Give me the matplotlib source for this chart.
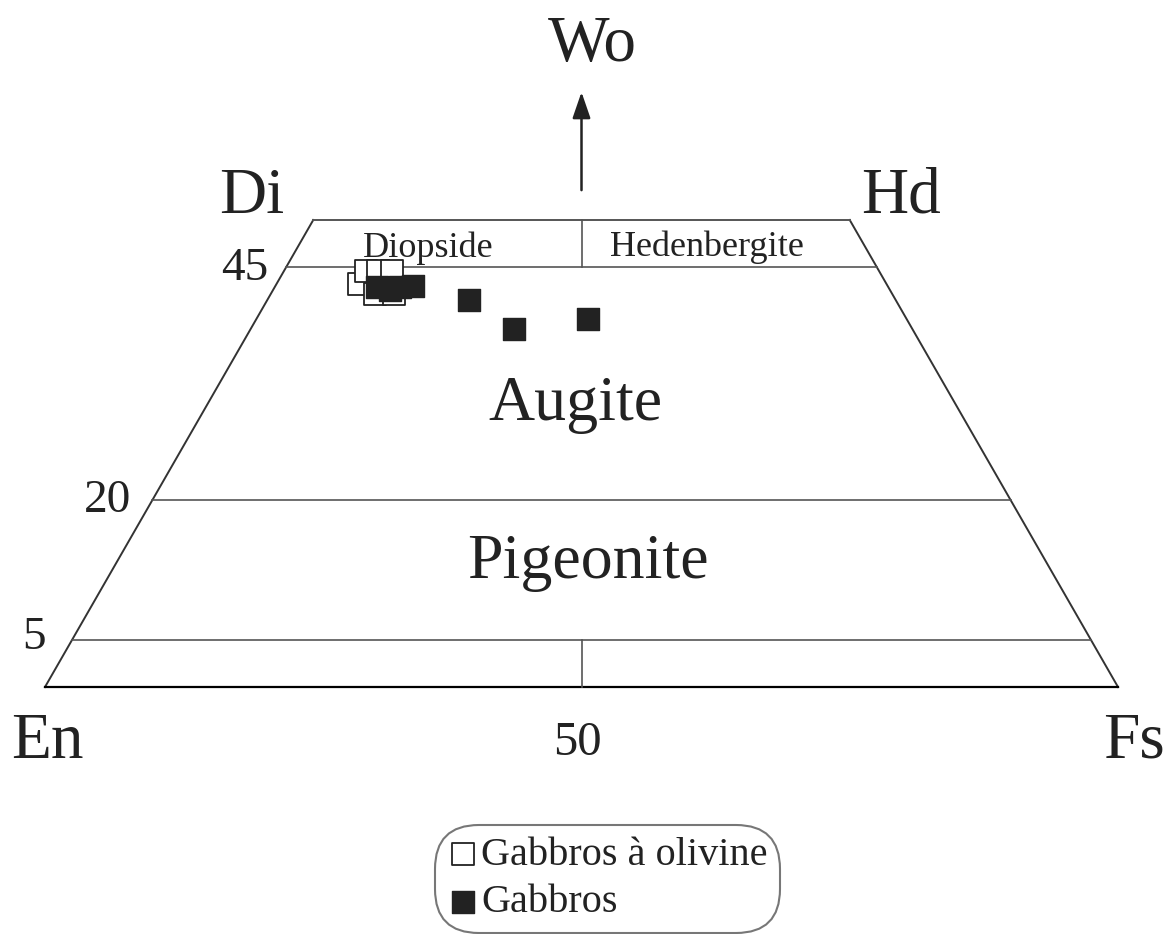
import matplotlib
matplotlib.use("Agg")
import matplotlib.pyplot as plt
import numpy as np

# ---- data (Wo, Fs percentages; En = 100 - Wo - Fs) ----
olivine_wo = [43.1, 44.5, 44.5, 44.5, 42.1, 42.1]
olivine_fs = [7.7, 7.7, 8.8, 10.1, 9.7, 11.5]
gabbro_wo = [42.8, 42.5, 42.8, 42.9, 41.4, 38.3, 39.4]
gabbro_fs = [9.5, 10.9, 11.7, 12.8, 18.8, 24.6, 30.9]

boundaries_wo = [45, 20, 5]
boundary_labels = ["45", "20", "5"]
series_labels = ["Gabbros à olivine", "Gabbros"]

plt.rcParams['font.family'] = ['Liberation Serif', 'DejaVu Serif']

def proj(wo, fs):
    wo = np.asarray(wo, float); fs = np.asarray(fs, float)
    return fs + wo / 2.0, wo

fig = plt.figure(figsize=(11.75, 9.34), dpi=100)
ax = fig.add_axes([0, 0, 1, 1])
ax.set_xlim(-45 / 10.73, (1175 - 45) / 10.73)
ax.set_ylim(687 / 9.34 - 934 / 9.34, 687 / 9.34)
ax.axis('off')

edge = '#333333'
# outline quadrilateral
qx, qy = proj([0, 0, 50, 50], [0, 100, 50, 0])
ax.plot([qx[3], qx[0]], [qy[3], qy[0]], color=edge, lw=1.4)
ax.plot([qx[1], qx[2]], [qy[1], qy[2]], color=edge, lw=1.4)
ax.plot([qx[2], qx[3]], [qy[2], qy[3]], color='#555555', lw=1.4)
ax.plot([qx[0], qx[1]], [qy[0], qy[1]], color='black', lw=1.6)

for w in boundaries_wo:
    ax.plot([w / 2, 100 - w / 2], [w, w], color='#555555', lw=1.2)
# vertical dividers at 50
ax.plot([50, 50], [45, 50], color='#555555', lw=1.2)
ax.plot([50, 50], [0, 5], color='#555555', lw=1.2)

# arrow toward Wo
ax.annotate('', xy=(50, 64.0), xytext=(50, 52.9),
            arrowprops=dict(arrowstyle='-|>,head_length=1.6,head_width=0.55',
                            color='#222222', lw=1.8))

fs_big = 47
ax.text(51.0, 67.0, 'Wo', ha='center', va='baseline', fontsize=fs_big, color='#222222')
ax.text(19.3, 50.8, 'Di', ha='center', va='baseline', fontsize=fs_big, color='#222222')
ax.text(79.8, 50.8, 'Hd', ha='center', va='baseline', fontsize=fs_big, color='#222222')
ax.text(-3.2, -7.6, 'En', ha='left', va='baseline', fontsize=fs_big, color='#222222')
ax.text(104.4, -7.6, 'Fs', ha='right', va='baseline', fontsize=fs_big, color='#222222')

num_pos = [(20.8, 43.6), (8.0, 18.7), (0.1, 4.1)]
for (x, y), lab in zip(num_pos, boundary_labels):
    ax.text(x, y, lab, ha='right', va='baseline', fontsize=34, color='#222222')
ax.text(49.6, -7.3, '50', ha='center', va='baseline', fontsize=35, color='#222222')

ax.text(35.7, 46.0, 'Diopside', ha='center', va='baseline', fontsize=26, color='#222222')
ax.text(61.7, 46.1, 'Hedenbergite', ha='center', va='baseline', fontsize=26, color='#222222')
ax.text(49.4, 28.6, 'Augite', ha='center', va='baseline', fontsize=46, color='#222222')
ax.text(50.6, 11.7, 'Pigeonite', ha='center', va='baseline', fontsize=46, color='#222222')

ox, oy = proj(olivine_wo, olivine_fs)
gx, gy = proj(gabbro_wo, gabbro_fs)
h1 = ax.scatter(ox, oy, marker='s', s=16**2, facecolor='white', edgecolor='#222222',
                linewidth=1.3, label=series_labels[0], zorder=3)
h2 = ax.scatter(gx, gy, marker='s', s=16**2, facecolor='#222222', edgecolor='#222222',
                linewidth=1.0, label=series_labels[1], zorder=4)

leg = ax.legend(handles=[h1, h2], loc='center', bbox_to_anchor=(0.517, 0.059),
                fontsize=29, frameon=True, handletextpad=0.05, handlelength=0.8,
                borderpad=0.3, labelspacing=0.25, scatterpoints=1,
                markerscale=1.0, borderaxespad=0)
frame = leg.get_frame()
frame.set_edgecolor('#555555')
frame.set_linewidth(1.5)
frame.set_boxstyle('round,pad=0,rounding_size=1.1')
for t in leg.get_texts():
    t.set_color('#222222')

fig.savefig('out.png', dpi=100, facecolor='white')
